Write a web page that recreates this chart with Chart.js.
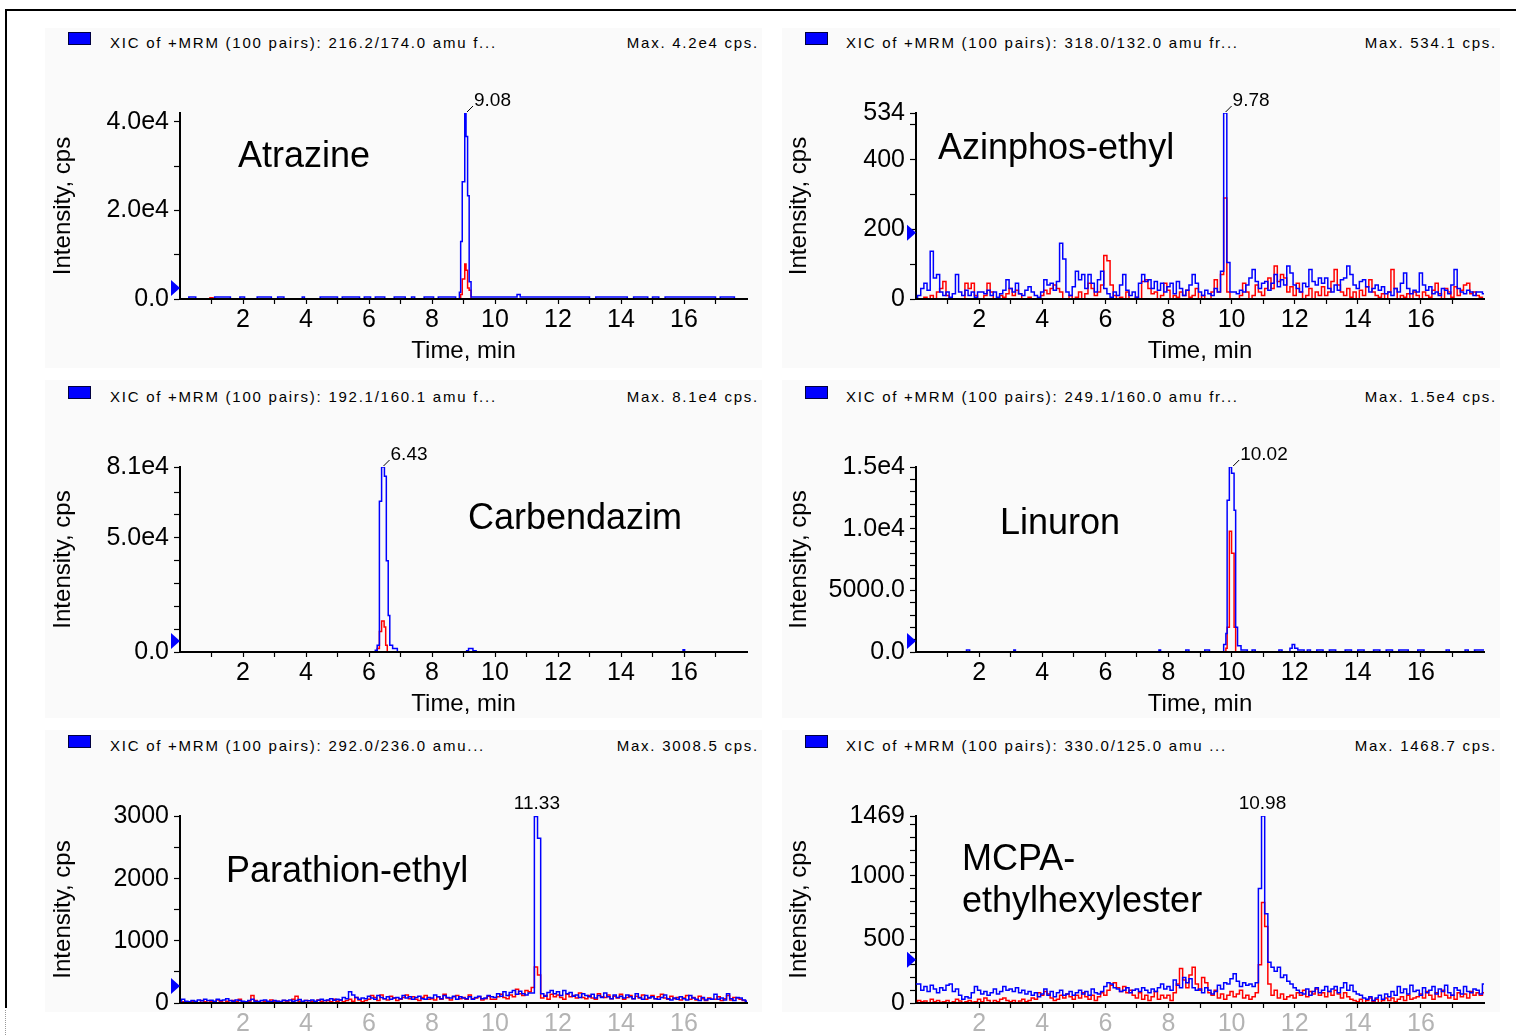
<!DOCTYPE html>
<html><head><meta charset="utf-8">
<script src="https://cdn.jsdelivr.net/npm/chart.js@4.4.1/dist/chart.umd.min.js"></script>
<style>
html,body{margin:0;padding:0;background:#fff;width:1516px;height:1035px;overflow:hidden;}
#stage{position:relative;width:1516px;height:1035px;overflow:hidden;background:#fff;}
.abs{position:absolute;}
.hdr{font:15px 'Liberation Sans',Arial,sans-serif;letter-spacing:1.75px;line-height:15px;white-space:nowrap;color:#000;}
.box{width:21px;height:11px;background:#0000ff;border:1px solid #000040;}
.name{font:36px 'Liberation Sans',Arial,sans-serif;line-height:36px;white-space:pre;color:#000;}
</style></head><body><div id="stage"></div>
<script>
// ================= DATA =================
const COMPOUNDS = ['Atrazine','Azinphos-ethyl','Carbendazim','Linuron','Parathion-ethyl','MCPA-\nethylhexylester'];
const XIC_TEXT = [
  'XIC of +MRM (100 pairs): 216.2/174.0 amu f...',
  'XIC of +MRM (100 pairs): 318.0/132.0 amu fr...',
  'XIC of +MRM (100 pairs): 192.1/160.1 amu f...',
  'XIC of +MRM (100 pairs): 249.1/160.0 amu fr...',
  'XIC of +MRM (100 pairs): 292.0/236.0 amu...',
  'XIC of +MRM (100 pairs): 330.0/125.0 amu ...'
];
const MAX_TEXT = ['Max. 4.2e4 cps.','Max. 534.1 cps.','Max. 8.1e4 cps.','Max. 1.5e4 cps.','Max. 3008.5 cps.','Max. 1468.7 cps.'];
const Y_MAX = [42000, 534.1, 81000, 15000, 3008.5, 1468.7];
const Y_TICK_VALUES = [
  [0,10000,20000,30000,40000],
  [0,100,200,300,400,500,534.1],
  [0,10000,20000,30000,40000,50000,60000,70000,81000],
  [0,1000,2000,3000,4000,5000,6000,7000,8000,9000,10000,11000,12000,13000,14000,15000],
  [0,500,1000,1500,2000,2500,3000],
  [0,100,200,300,400,500,600,700,800,900,1000,1100,1200,1300,1400,1468.7]
];
const Y_TICK_LABELS = [
  ['0.0','','2.0e4','','4.0e4'],
  ['0','','200','','400','','534'],
  ['0.0','','','','','5.0e4','','','8.1e4'],
  ['0.0','','','','','5000.0','','','','','1.0e4','','','','','1.5e4'],
  ['0','','1000','','2000','','3000'],
  ['0','','','','','500','','','','','1000','','','','','1469']
];
const X_TICK_VALUES = [1,2,3,4,5,6,7,8,9,10,11,12,13,14,15,16,17];
const X_TICK_LABELS = ['','2','','4','','6','','8','','10','','12','','14','','16',''];
const PEAK_TIMES = [9.08, 9.78, 6.43, 10.02, 11.33, 10.98];
const PEAK_LABELS = ['9.08','9.78','6.43','10.02','11.33','10.98'];
const PEAK_LEADER = [true, true, true, true, false, false];
const MARKERS = [2500, 190, 4800, 890, 275, 340];

// sampling times (min) for the noisy traces
const TIME = [
 0.0,0.1,0.2,0.3,0.4,0.5,0.6,0.7,0.8,0.9,
 1.0,1.1,1.2,1.3,1.4,1.5,1.6,1.7,1.8,1.9,
 2.0,2.1,2.2,2.3,2.4,2.5,2.6,2.7,2.8,2.9,
 3.0,3.1,3.2,3.3,3.4,3.5,3.6,3.7,3.8,3.9,
 4.0,4.1,4.2,4.3,4.4,4.5,4.6,4.7,4.8,4.9,
 5.0,5.1,5.2,5.3,5.4,5.5,5.6,5.7,5.8,5.9,
 6.0,6.1,6.2,6.3,6.4,6.5,6.6,6.7,6.8,6.9,
 7.0,7.1,7.2,7.3,7.4,7.5,7.6,7.7,7.8,7.9,
 8.0,8.1,8.2,8.3,8.4,8.5,8.6,8.7,8.8,8.9,
 9.0,9.1,9.2,9.3,9.4,9.5,9.6,9.7,9.8,9.9,
 10.0,10.1,10.2,10.3,10.4,10.5,10.6,10.7,10.8,10.9,
 11.0,11.1,11.2,11.3,11.4,11.5,11.6,11.7,11.8,11.9,
 12.0,12.1,12.2,12.3,12.4,12.5,12.6,12.7,12.8,12.9,
 13.0,13.1,13.2,13.3,13.4,13.5,13.6,13.7,13.8,13.9,
 14.0,14.1,14.2,14.3,14.4,14.5,14.6,14.7,14.8,14.9,
 15.0,15.1,15.2,15.3,15.4,15.5,15.6,15.7,15.8,15.9,
 16.0,16.1,16.2,16.3,16.4,16.5,16.6,16.7,16.8,16.9,
 17.0,17.1,17.2,17.3,17.4,17.5,17.6,17.7,17.8,17.9,
 18.0];

// Atrazine (sparse step points [time, cps])
const ATRA_BLUE = [[0,0],[0.28,450],[0.5,0],[1.1,450],[1.6,0],[1.9,450],[2.05,0],[2.45,450],[2.9,0],[3.1,450],[3.3,0],
  [3.88,450],[3.95,0],[4.45,450],[5.0,0],[5.15,450],[5.7,0],[5.85,450],[6.05,0],[6.2,450],[6.5,0],[6.8,450],[7.15,0],
  [7.35,450],[7.45,0],[7.75,450],[8.05,0],[8.2,450],[8.75,0],[8.87,1500],[8.91,13000],[8.96,26500],[9.04,42000],
  [9.08,36700],[9.13,23300],[9.18,3900],[9.24,450],[10.7,1000],[10.8,450],[13.0,0],[13.2,450],[14.2,0],[14.4,450],
  [14.85,0],[15.0,450],[15.2,0],[15.4,450],[17.0,0],[17.15,450],[17.6,0],[18,0]];
const ATRA_RED = [[0,0],[0.95,300],[1.05,0],[8.91,1000],[8.96,4500],[9.04,7900],[9.08,6500],[9.13,2500],[9.18,2000],[9.24,0],[18,0]];

// Carbendazim
const CARB_BLUE = [[0,0],[6.2,800],[6.26,3000],[6.33,66000],[6.4,81000],[6.49,77000],[6.55,40000],[6.61,16000],[6.66,3000],
  [6.75,1500],[6.9,0],[9.1,600],[9.16,1500],[9.3,500],[9.4,0],[15.97,1000],[16.02,0],[18,0]];
const CARB_RED = [[0,0],[6.26,1500],[6.33,9000],[6.4,13600],[6.48,11000],[6.53,3000],[6.58,0],[18,0]];

// Linuron
const LINU_BLUE = [[0,0],[1.6,170],[1.7,0],[3.1,170],[3.15,0],[7.7,170],[7.75,0],[8.55,170],[8.65,0],[9.15,170],[9.3,0],
  [9.75,600],[9.82,1500],[9.86,12300],[9.93,15000],[10.0,14500],[10.08,11500],[10.13,2000],[10.19,500],[10.3,170],[10.5,0],
  [10.65,170],[10.75,0],[11.5,170],[11.6,0],[11.85,300],[11.92,600],[12.0,300],[12.1,170],[12.3,0],[12.4,170],[12.5,0],
  [12.7,170],[12.9,0],[13.1,170],[13.3,0],[13.6,170],[13.8,0],[14.0,170],[14.2,0],[14.5,170],[14.7,0],[14.9,170],[15.1,0],
  [15.3,170],[15.6,0],[15.9,170],[16.1,0],[16.8,170],[16.9,0],[17.4,170],[17.5,0],[17.7,170],[18,170]];
const LINU_RED = [[0,0],[9.82,300],[9.86,2000],[9.93,9800],[10.0,8000],[10.08,2000],[10.13,0],[18,0]];

// Azinphos-ethyl (values at TIME)
const AZIN_BLUE = [
 0,10,30,45,25,137,60,70,20,10,
 20,5,15,70,20,10,25,10,20,5,
 20,20,15,25,10,20,5,15,25,55,
 30,20,45,15,10,25,35,20,10,5,
 20,55,40,45,25,50,160,115,20,10,
 35,80,55,70,30,70,45,20,55,80,
 30,15,5,20,10,40,70,25,10,20,
 5,45,70,50,55,30,50,25,45,20,
 35,45,15,50,30,10,25,40,70,45,
 20,10,25,15,10,30,20,80,534,105,
 20,20,15,25,20,40,60,85,50,30,
 45,50,25,45,70,35,55,40,95,75,
 40,30,20,45,35,85,50,40,60,45,
 60,30,20,40,25,55,60,95,70,40,
 30,50,55,35,20,30,40,25,35,15,
 20,10,30,20,45,75,30,15,25,20,
 75,40,25,35,15,20,10,30,25,15,
 40,85,30,20,15,25,20,10,20,20,
 15];
const AZIN_RED = [
 0,0,0,5,0,10,0,20,30,50,
 10,0,0,0,0,0,45,30,45,10,
 0,0,10,45,20,0,0,10,5,15,
 30,10,25,15,0,0,5,0,0,0,
 10,25,15,30,40,30,20,0,0,10,
 0,5,20,0,15,45,30,10,20,40,
 125,110,40,10,0,5,0,20,0,0,
 5,0,50,55,30,15,20,0,10,45,
 25,0,10,5,20,10,25,5,10,30,
 0,10,0,0,20,55,20,70,290,20,
 0,0,0,10,45,20,0,10,40,20,
 10,30,60,30,95,50,70,60,20,35,
 10,45,20,0,10,30,0,20,10,35,
 10,20,50,85,40,20,10,30,5,20,
 0,25,10,35,55,20,10,5,15,0,
 20,85,30,0,10,5,15,0,20,10,
 0,20,10,5,25,45,15,0,30,20,
 5,35,10,25,40,45,15,20,10,5,
 0];

// Parathion-ethyl
const PARA_BLUE = [
 0,60,30,20,40,30,50,35,60,40,
 45,30,60,40,50,70,40,30,50,40,
 30,20,40,60,30,25,40,50,30,20,
 40,30,25,45,35,50,30,40,55,30,
 40,35,50,30,45,60,40,50,70,45,
 60,50,90,70,180,130,90,60,80,70,
 110,80,60,120,90,70,100,60,80,90,
 70,120,80,100,60,90,110,70,60,90,
 80,130,100,70,120,90,80,110,60,100,
 80,70,100,60,90,110,70,80,120,100,
 90,150,110,180,120,170,200,140,190,150,
 130,160,160,3000,2650,150,110,170,200,150,
 180,120,200,150,170,110,130,90,150,120,
 100,140,80,120,90,160,100,70,130,90,
 110,80,130,100,70,150,90,60,120,80,
 100,70,60,90,130,70,50,80,60,100,
 70,50,120,80,60,40,90,50,70,60,
 140,60,80,50,150,70,40,90,80,50,
 30];
const PARA_RED = [
 0,20,10,0,30,10,0,40,20,10,
 30,10,50,20,0,30,10,40,20,60,
 20,10,30,120,40,20,10,30,20,50,
 20,30,10,40,20,10,60,110,30,20,
 40,10,30,20,50,30,10,40,20,60,
 30,50,20,40,60,30,90,50,20,40,
 60,120,90,40,130,70,50,110,80,40,
 60,90,130,70,100,60,40,90,120,60,
 70,50,100,60,140,80,50,100,120,70,
 90,60,130,70,80,100,50,70,110,60,
 60,100,140,90,70,130,100,220,150,120,
 200,180,250,580,450,80,120,60,140,100,
 130,90,60,140,100,120,80,160,90,70,
 120,80,60,150,100,90,130,70,110,80,
 140,60,90,120,70,110,80,130,60,90,
 120,70,100,140,80,60,110,70,90,50,
 80,120,60,90,50,110,70,40,80,60,
 60,100,40,70,120,50,90,80,60,40,
 30];

// MCPA-ethylhexylester
const MCPA_BLUE = [
 150,150,100,130,90,140,110,80,120,100,
 140,150,90,110,60,30,50,40,80,130,
 100,70,90,60,80,110,70,90,130,100,
 110,90,120,80,100,70,90,60,80,50,
 70,110,60,90,50,80,100,60,70,90,
 60,80,100,70,90,60,110,80,70,90,
 130,160,150,120,110,90,100,120,80,100,
 110,90,120,100,80,110,90,120,150,110,
 130,100,180,140,120,200,160,190,120,100,
 110,80,120,100,70,90,140,110,160,150,
 190,230,170,130,160,140,150,130,160,900,
 1469,700,320,280,250,280,200,220,170,150,
 120,100,80,70,110,60,90,120,80,100,
 130,90,110,130,80,120,160,100,140,90,
 70,60,40,30,50,20,40,60,30,70,
 50,90,60,130,80,110,70,140,90,100,
 60,120,80,100,130,70,110,90,140,80,
 60,120,100,70,130,90,80,110,100,70,
 150];
const MCPA_RED = [
 0,20,10,15,0,30,10,20,5,10,
 20,0,10,30,15,0,10,20,5,10,
 30,10,40,20,0,20,10,30,40,20,
 10,20,0,15,30,10,20,40,30,80,
 60,90,70,40,20,30,60,40,70,50,
 30,60,40,80,50,30,60,20,50,80,
 60,100,140,160,120,90,130,80,100,60,
 40,80,30,60,20,50,90,30,60,40,
 60,20,80,150,270,180,120,220,280,150,
 100,200,160,80,60,100,40,70,30,60,
 90,50,70,100,40,60,30,50,80,300,
 790,600,150,60,100,40,70,30,50,60,
 40,80,60,100,50,90,70,110,60,80,
 50,90,60,100,70,40,80,50,30,20,
 10,30,0,20,40,10,30,0,20,40,
 20,40,10,30,50,20,60,30,40,50,
 70,40,90,60,30,80,50,100,60,40,
 60,30,80,50,70,40,90,60,80,60,
 80];

// ================= RENDER =================
const NARROW = "'Liberation Sans Narrow','Arial Narrow','Liberation Sans',Arial,sans-serif";
const REGULAR = "'Liberation Sans',Arial,sans-serif";
Chart.defaults.color = '#000';
Chart.defaults.font.family = REGULAR;

const fromPairs = (p) => p.map(([x, y]) => ({x, y}));
const fromGrid = (v) => v.map((y, i) => ({x: TIME[i], y}));
const SERIES = [
  {blue: fromPairs(ATRA_BLUE), red: fromPairs(ATRA_RED), step: true},
  {blue: fromGrid(AZIN_BLUE), red: fromGrid(AZIN_RED), step: 'middle'},
  {blue: fromPairs(CARB_BLUE), red: fromPairs(CARB_RED), step: true},
  {blue: fromPairs(LINU_BLUE), red: fromPairs(LINU_RED), step: true},
  {blue: fromGrid(PARA_BLUE), red: fromGrid(PARA_RED), step: 'middle'},
  {blue: fromGrid(MCPA_BLUE), red: fromGrid(MCPA_RED), step: 'middle'}
];

const stage = document.getElementById('stage');
function el(cls, style, text) {
  const d = document.createElement('div');
  d.className = 'abs ' + cls;
  Object.assign(d.style, style);
  if (text !== undefined) d.textContent = text;
  stage.appendChild(d);
  return d;
}

// layout (page pixels)
const COL_CANVAS_X = [40, 776];
const COL_CHART_RIGHT = [747, 1484];
const ROW_TOP = [113, 467, 816];
const ROW_BOTTOM = [299, 652, 1003];
const ROW_HDR = [35, 389, 738];
const ROW_BOX = [32, 386, 735];
const COL_BOX_X = [68, 805];
const COL_HDR_X = [110, 846];
const COL_MAX_R = [759, 1497];
const NAME_POS = [[238,137],[938,129],[468,499],[1000,504],[226,852],[962,837]];
const TOPPAD = 45, XAXIS_H = 67, YAXIS_W = 140;

// panel backgrounds
[[45,28,717,340],[782,28,718,340],[45,380,717,338],[782,380,718,338],[45,730,717,282],[782,730,718,282]].forEach(([x,y,w,h]) =>
  el('', {left:x+'px', top:y+'px', width:w+'px', height:h+'px', background:'#fafafa'}));

// frame
el('', {left:'5px', top:'9px', width:'1511px', height:'2px', background:'#000'});
el('', {left:'5px', top:'9px', width:'2px', height:'999px', background:'#000'});
el('', {left:'5px', top:'1010px', width:'0px', height:'25px', borderLeft:'1px dotted #999'});

const annotPlugin = {
  id: 'annot',
  afterDraw(chart, args, o) {
    const {ctx, chartArea, scales: {x, y}} = chart;
    const px = x.getPixelForValue(o.peakTime);
    const py = chartArea.top;
    ctx.save();
    ctx.fillStyle = '#000';
    ctx.strokeStyle = '#000';
    ctx.lineWidth = 1;
    ctx.font = "19px " + NARROW;
    ctx.textBaseline = 'middle';
    if (o.leader) {
      ctx.beginPath(); ctx.moveTo(px + 1, py - 1); ctx.lineTo(px + 7, py - 7); ctx.stroke();
      ctx.textAlign = 'left';
      ctx.fillText(o.label, px + 8, py - 12);
    } else {
      ctx.textAlign = 'center';
      ctx.fillText(o.label, px, py - 12);
    }
    const my = y.getPixelForValue(o.marker);
    ctx.fillStyle = '#0000ff';
    ctx.beginPath();
    ctx.moveTo(chartArea.left - 9, my - 8);
    ctx.lineTo(chartArea.left, my);
    ctx.lineTo(chartArea.left - 9, my + 8);
    ctx.closePath(); ctx.fill();
    ctx.restore();
  }
};

for (let i = 0; i < 6; i++) {
  const col = i % 2, row = Math.floor(i / 2);
  const cx = COL_CANVAS_X[col];
  const cy = ROW_TOP[row] - TOPPAD;
  const w = COL_CHART_RIGHT[col] + 8 - cx;
  const h = TOPPAD + (ROW_BOTTOM[row] - ROW_TOP[row]) + XAXIS_H;
  const cv = document.createElement('canvas');
  cv.width = w; cv.height = h;
  cv.style.cssText = `position:absolute;left:${cx}px;top:${cy}px;width:${w}px;height:${h}px;`;
  stage.appendChild(cv);
  const s = SERIES[i];
  const tickFont = {family: NARROW, size: 25};
  const xLabelColor = row === 2 ? '#b4b4b4' : '#000';
  new Chart(cv, {
    type: 'line',
    data: {datasets: [
      {data: s.blue, borderColor: '#0000ff', borderWidth: 1.5, pointRadius: 0, stepped: s.step, fill: false, tension: 0},
      {data: s.red, borderColor: '#ff0000', borderWidth: 1.5, pointRadius: 0, stepped: s.step, fill: false, tension: 0}
    ]},
    options: {
      responsive: false, animation: false, devicePixelRatio: 1, events: [],
      layout: {padding: {left: 0, right: 8, top: TOPPAD, bottom: 0}},
      plugins: {
        legend: {display: false}, tooltip: {enabled: false},
        annot: {peakTime: PEAK_TIMES[i], label: PEAK_LABELS[i], leader: PEAK_LEADER[i], marker: MARKERS[i]}
      },
      scales: {
        x: {
          type: 'linear', min: 0, max: 18,
          afterFit: (sc) => { sc.height = XAXIS_H; },
          afterBuildTicks: (sc) => { sc.ticks = X_TICK_VALUES.map(v => ({value: v})); },
          ticks: {autoSkip: false, maxRotation: 0, minRotation: 0, padding: 1, font: tickFont, color: xLabelColor,
                  callback: (v, idx) => X_TICK_LABELS[idx]},
          grid: {drawOnChartArea: false, drawTicks: true, tickLength: 5, color: '#000', tickColor: '#000', tickWidth: 1.2},
          border: {display: true, color: '#000', width: 2, z: 1},
          title: {display: true, text: 'Time, min', font: {family: NARROW, size: 24}, padding: {top: 0, bottom: 0}, color: '#000'}
        },
        y: {
          type: 'linear', min: 0, max: Y_MAX[i],
          afterFit: (sc) => { sc.width = YAXIS_W; },
          afterBuildTicks: (sc) => { sc.ticks = Y_TICK_VALUES[i].map(v => ({value: v})); },
          ticks: {autoSkip: false, padding: 5, font: tickFont, color: '#000',
                  callback: (v, idx) => Y_TICK_LABELS[i][idx]},
          grid: {drawOnChartArea: false, drawTicks: true, tickLength: 6, color: '#000', tickColor: '#000', tickWidth: 1.2},
          border: {display: true, color: '#000', width: 2},
          title: {display: true, text: 'Intensity, cps', font: {family: REGULAR, size: 24}, padding: {top: 9, bottom: 0}, color: '#000'}
        }
      }
    },
    plugins: [annotPlugin]
  });

  // header row
  el('box', {left: COL_BOX_X[col] + 'px', top: ROW_BOX[row] + 'px'});
  el('hdr', {left: COL_HDR_X[col] + 'px', top: ROW_HDR[row] + 'px'}, XIC_TEXT[i]);
  el('hdr', {right: (1516 - COL_MAX_R[col]) + 'px', top: ROW_HDR[row] + 'px'}, MAX_TEXT[i]);
  // compound name
  const nm = el('name', {left: NAME_POS[i][0] + 'px', top: NAME_POS[i][1] + 'px'}, COMPOUNDS[i]);
  if (i === 5) nm.style.lineHeight = '42px';
}
</script></body></html>
